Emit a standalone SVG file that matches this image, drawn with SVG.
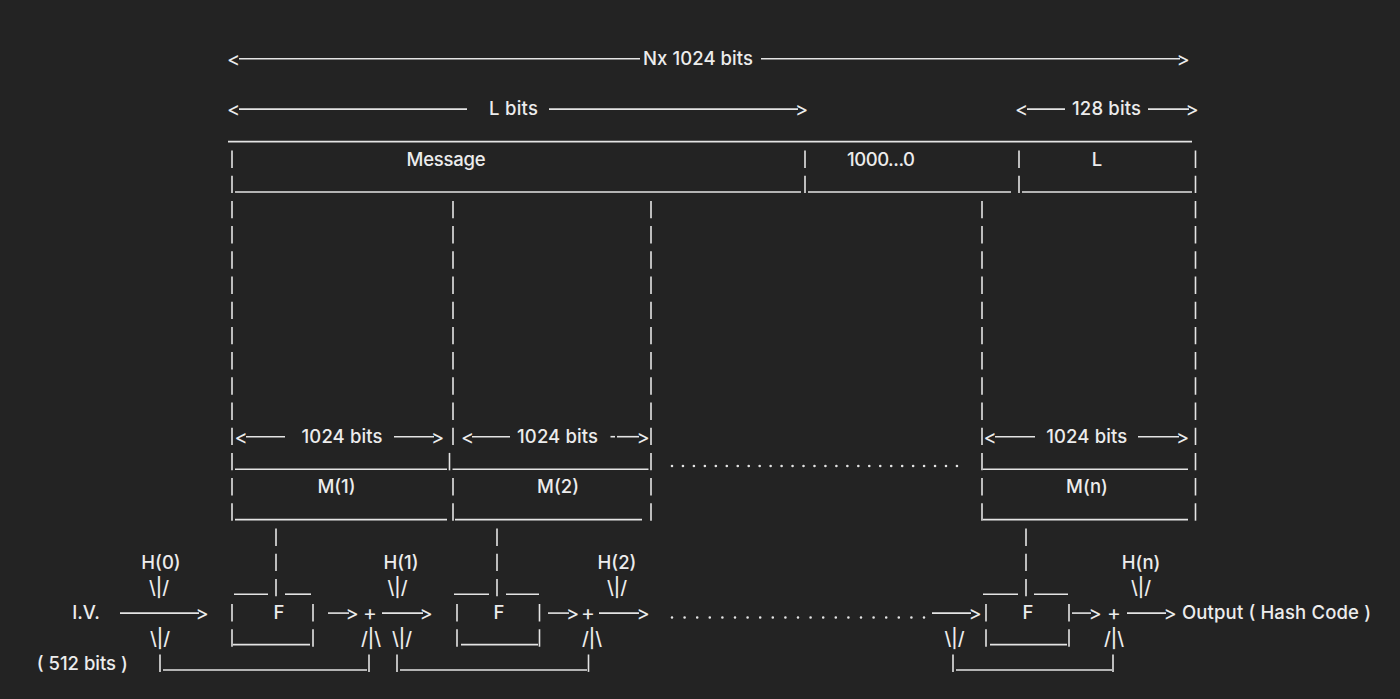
<svg xmlns="http://www.w3.org/2000/svg" width="1400" height="699" viewBox="0 0 1400 699">
<style>
.t{font-family:Inter,"Liberation Sans",sans-serif;font-size:18.5px;font-weight:500;fill:#ececec;text-anchor:middle}
.s{text-anchor:start}
.a{font-size:20px;font-weight:400}
.plus{font-size:21px;font-weight:400}
.l{stroke:#e4e4e4;stroke-width:1.6;fill:none}
.p{stroke:#e4e4e4;stroke-width:1.6;fill:none;stroke-dasharray:17.4 7.8}
.d{stroke:#e4e4e4;stroke-width:2.6;stroke-linecap:round;fill:none}
</style>
<rect width="1400" height="699" fill="#232323"/>

<g id="connectors">
  <line class="l" x1="239" y1="58.7" x2="640" y2="58.7"/>
  <line class="l" x1="761" y1="58.7" x2="1180" y2="58.7"/>
  <line class="l" x1="239" y1="109.1" x2="467" y2="109.1"/>
  <line class="l" x1="549" y1="109.1" x2="798" y2="109.1"/>
  <line class="l" x1="1027" y1="109.1" x2="1065" y2="109.1"/>
  <line class="l" x1="1148" y1="109.1" x2="1189" y2="109.1"/>
  <line class="l" x1="246" y1="436.7" x2="285" y2="436.7"/>
  <line class="l" x1="394" y1="436.7" x2="434" y2="436.7"/>
  <line class="l" x1="472" y1="436.7" x2="510" y2="436.7"/>
  <line class="l" x1="610.5" y1="436.7" x2="615" y2="436.7"/>
  <line class="l" x1="617" y1="436.7" x2="639" y2="436.7"/>
  <line class="l" x1="995" y1="436.7" x2="1035" y2="436.7"/>
  <line class="l" x1="1138" y1="436.7" x2="1179" y2="436.7"/>
  <line class="l" x1="120" y1="613.1" x2="199" y2="613.1"/>
  <line class="l" x1="328" y1="613.1" x2="349" y2="613.1"/>
  <line class="l" x1="382" y1="613.1" x2="423" y2="613.1"/>
  <line class="l" x1="548" y1="613.1" x2="569" y2="613.1"/>
  <line class="l" x1="599" y1="613.1" x2="639" y2="613.1"/>
  <line class="l" x1="932" y1="613.1" x2="971" y2="613.1"/>
  <line class="l" x1="1072" y1="613.1" x2="1091" y2="613.1"/>
  <line class="l" x1="1127" y1="613.1" x2="1166" y2="613.1"/>
  <line class="d" x1="672" y1="466" x2="957" y2="466" stroke-dasharray="0 10.96"/>
  <line class="d" x1="672" y1="617.5" x2="924" y2="617.5" stroke-dasharray="0 12.6"/>
  <text class="t a" x="233.5" y="65.5">&lt;</text>
  <text class="t a" x="1183" y="65.5">&gt;</text>
  <text class="t a" x="233.5" y="115.9">&lt;</text>
  <text class="t a" x="801.5" y="115.9">&gt;</text>
  <text class="t a" x="1021.5" y="115.9">&lt;</text>
  <text class="t a" x="1192" y="115.9">&gt;</text>
  <text class="t a" x="241" y="443.5">&lt;</text>
  <text class="t a" x="437.5" y="443.5">&gt;</text>
  <text class="t a" x="467.5" y="443.5">&lt;</text>
  <text class="t a" x="643" y="443.5">&gt;</text>
  <text class="t a" x="990" y="443.5">&lt;</text>
  <text class="t a" x="1182.5" y="443.5">&gt;</text>
  <text class="t a" x="202" y="619.9">&gt;</text>
  <text class="t a" x="352" y="619.9">&gt;</text>
  <text class="t a" x="426" y="619.9">&gt;</text>
  <text class="t a" x="572.5" y="619.9">&gt;</text>
  <text class="t a" x="643" y="619.9">&gt;</text>
  <text class="t a" x="975" y="619.9">&gt;</text>
  <text class="t a" x="1095" y="619.9">&gt;</text>
  <text class="t a" x="1170" y="619.9">&gt;</text>
</g>

<g id="padded-message">
  <line class="l" x1="228" y1="141.6" x2="1192" y2="141.6"/>
  <line class="l" x1="235" y1="192" x2="801" y2="192"/>
  <line class="l" x1="808" y1="192" x2="1011" y2="192"/>
  <line class="l" x1="1022" y1="192" x2="1192" y2="192"/>
  <line class="p" x1="232" y1="150.5" x2="232" y2="520.7"/>
  <line class="p" x1="1195.5" y1="150.5" x2="1195.5" y2="520.7"/>
  <line class="p" x1="805" y1="150.5" x2="805" y2="193.1"/>
  <line class="p" x1="1019" y1="150.5" x2="1019" y2="193.1"/>
  <text class="t" x="698" y="65" textLength="110">Nx 1024 bits</text>
  <text class="t" x="513.5" y="115.4" textLength="49">L bits</text>
  <text class="t" x="1106.5" y="115.4" textLength="69">128 bits</text>
  <text class="t" x="446" y="165.8" textLength="79">Message</text>
  <text class="t" x="881" y="165.8" textLength="68">1000...0</text>
  <text class="t" x="1097" y="165.8">L</text>
</g>

<g id="block-m1">
  <line class="p" x1="453" y1="200.9" x2="453" y2="445.1"/>
  <line class="l" x1="449.5" y1="452.9" x2="449.5" y2="470.3"/>
  <line class="p" x1="453" y1="478.1" x2="453" y2="520.7"/>
  <line class="l" x1="235" y1="469.2" x2="447" y2="469.2"/>
  <line class="l" x1="235" y1="519.6" x2="447" y2="519.6"/>
  <text class="t" x="342" y="443" textLength="81">1024 bits</text>
  <text class="t" x="336.5" y="493.4">M(1)</text>
</g>

<g id="block-m2">
  <line class="p" x1="651" y1="200.9" x2="651" y2="520.7"/>
  <line class="l" x1="452.5" y1="469.2" x2="648.5" y2="469.2"/>
  <line class="l" x1="455" y1="519.6" x2="642" y2="519.6"/>
  <text class="t" x="557.5" y="443" textLength="81">1024 bits</text>
  <text class="t" x="558" y="493.4">M(2)</text>
</g>

<g id="block-mn">
  <line class="p" x1="982" y1="200.9" x2="982" y2="520.7"/>
  <line class="l" x1="983" y1="469.2" x2="1188" y2="469.2"/>
  <line class="l" x1="983" y1="519.6" x2="1188" y2="519.6"/>
  <text class="t" x="1086.7" y="443" textLength="81">1024 bits</text>
  <text class="t" x="1087" y="493.4">M(n)</text>
</g>

<g id="iv">
  <text class="t" x="86" y="619.4">I.V.</text>
  <text class="t" x="82.3" y="669.8" textLength="91">( 512 bits )</text>
  <text class="t" x="161" y="569">H(0)</text>
  <text class="t" x="159" y="594.2">\|/</text>
  <text class="t" x="160" y="644.6">\|/</text>
  <line class="l" x1="160" y1="654.5" x2="160" y2="671.9"/>
  <line class="l" x1="163" y1="670" x2="367" y2="670"/>
  <line class="l" x1="369" y1="654.5" x2="369" y2="671.9"/>
</g>

<g id="f1">
  <line class="p" x1="276" y1="528.5" x2="276" y2="596.3"/>
  <line class="l" x1="234" y1="594.2" x2="268" y2="594.2"/>
  <line class="l" x1="285" y1="594.2" x2="311" y2="594.2"/>
  <line class="p" x1="232" y1="604.1" x2="232" y2="646.7"/>
  <line class="p" x1="313" y1="604.1" x2="313" y2="646.7"/>
  <line class="l" x1="233" y1="644.6" x2="310" y2="644.6"/>
  <text class="t" x="279" y="619.4">F</text>
</g>

<g id="add1">
  <text class="t plus" x="370" y="620">+</text>
  <text class="t" x="371" y="644.6">/|\</text>
  <text class="t" x="401" y="569">H(1)</text>
  <text class="t" x="397.5" y="594.2">\|/</text>
  <text class="t" x="402" y="644.6">\|/</text>
  <line class="l" x1="397" y1="654.5" x2="397" y2="671.9"/>
  <line class="l" x1="400" y1="670" x2="587" y2="670"/>
  <line class="l" x1="588.5" y1="654.5" x2="588.5" y2="671.9"/>
</g>

<g id="f2">
  <line class="p" x1="497" y1="528.5" x2="497" y2="596.3"/>
  <line class="l" x1="454" y1="594.2" x2="489" y2="594.2"/>
  <line class="l" x1="506" y1="594.2" x2="539" y2="594.2"/>
  <line class="p" x1="457" y1="604.1" x2="457" y2="646.7"/>
  <line class="p" x1="539.5" y1="604.1" x2="539.5" y2="646.7"/>
  <line class="l" x1="461" y1="644.6" x2="538" y2="644.6"/>
  <text class="t" x="499" y="619.4">F</text>
</g>

<g id="add2">
  <text class="t plus" x="588" y="620">+</text>
  <text class="t" x="592" y="644.6">/|\</text>
  <text class="t" x="617" y="569">H(2)</text>
  <text class="t" x="617" y="594.2">\|/</text>
</g>

<g id="fn">
  <text class="t" x="954.5" y="644.6">\|/</text>
  <line class="l" x1="953" y1="654.5" x2="953" y2="671.9"/>
  <line class="l" x1="956" y1="670" x2="1112" y2="670"/>
  <line class="l" x1="1113" y1="654.5" x2="1113" y2="671.9"/>
  <line class="p" x1="1026" y1="528.5" x2="1026" y2="596.3"/>
  <line class="l" x1="983" y1="594.2" x2="1018" y2="594.2"/>
  <line class="l" x1="1034" y1="594.2" x2="1068" y2="594.2"/>
  <line class="p" x1="986" y1="604.1" x2="986" y2="646.7"/>
  <line class="p" x1="1069" y1="604.1" x2="1069" y2="646.7"/>
  <line class="l" x1="990" y1="644.6" x2="1067" y2="644.6"/>
  <text class="t" x="1028" y="619.4">F</text>
</g>

<g id="addn">
  <text class="t plus" x="1114" y="620">+</text>
  <text class="t" x="1114" y="644.6">/|\</text>
  <text class="t" x="1141" y="569">H(n)</text>
  <text class="t" x="1141" y="594.2">\|/</text>
</g>

<g id="output">
  <text class="t s" x="1182" y="619.4" textLength="189">Output ( Hash Code )</text>
</g>
</svg>
